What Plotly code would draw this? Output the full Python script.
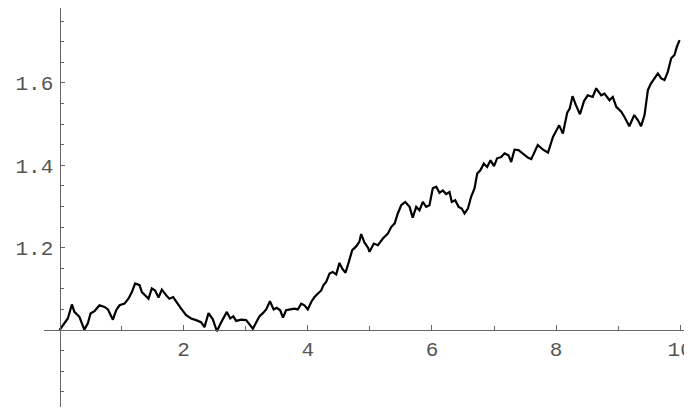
import plotly.graph_objects as go

# Path values (time t, value W)
t_values = [0.00, 0.08, 0.134, 0.199, 0.24, 0.32, 0.40, 0.456, 0.50, 0.564, 0.644, 0.725, 0.78, 0.86,
            0.913, 0.967, 1.047, 1.11, 1.166, 1.219, 1.289, 1.327, 1.38, 1.434, 1.487, 1.54, 1.595,
            1.649, 1.72, 1.77, 1.83, 1.88, 1.96, 2.04, 2.12, 2.20, 2.28, 2.336, 2.40, 2.47, 2.535,
            2.605, 2.696, 2.75, 2.80, 2.846, 2.927, 3.007, 3.06, 3.115, 3.17, 3.22, 3.276, 3.33, 3.39,
            3.45, 3.50, 3.555, 3.60, 3.65, 3.72, 3.786, 3.84, 3.894, 3.947, 4.00, 4.055, 4.108, 4.16,
            4.216, 4.253, 4.296, 4.35, 4.40, 4.458, 4.51, 4.555, 4.608, 4.66, 4.716, 4.78, 4.83, 4.86,
            4.914, 4.97, 4.994, 5.064, 5.13, 5.21, 5.29, 5.344, 5.40, 5.45, 5.505, 5.57, 5.64, 5.69,
            5.747, 5.80, 5.853, 5.907, 5.96, 6.014, 6.069, 6.122, 6.175, 6.23, 6.283, 6.32, 6.375,
            6.43, 6.48, 6.525, 6.58, 6.63, 6.686, 6.73, 6.78, 6.836, 6.89, 6.944, 7.00, 7.05, 7.116,
            7.17, 7.234, 7.277, 7.33, 7.395, 7.44, 7.49, 7.55, 7.60, 7.705, 7.79, 7.87, 7.95, 8.05,
            8.11, 8.18, 8.22, 8.265, 8.32, 8.385, 8.45, 8.51, 8.59, 8.647, 8.727, 8.78, 8.86, 8.914,
            8.97, 9.05, 9.10, 9.18, 9.26, 9.317, 9.37, 9.425, 9.48, 9.53, 9.586, 9.64, 9.694, 9.747,
            9.80, 9.855, 9.908, 9.946, 9.99]
w_values = [1.000, 1.016, 1.028, 1.062, 1.044, 1.032, 1.001, 1.016, 1.040, 1.046, 1.060, 1.056, 1.050, 1.025,
            1.048, 1.060, 1.064, 1.076, 1.092, 1.113, 1.109, 1.092, 1.084, 1.076, 1.101, 1.096, 1.079,
            1.098, 1.084, 1.076, 1.080, 1.068, 1.052, 1.036, 1.028, 1.024, 1.019, 1.007, 1.041, 1.026, 0.997,
            1.019, 1.044, 1.028, 1.033, 1.022, 1.025, 1.024, 1.015, 1.003, 1.019, 1.033, 1.041, 1.050, 1.070,
            1.050, 1.054, 1.048, 1.030, 1.048, 1.050, 1.052, 1.050, 1.064, 1.060, 1.050, 1.068, 1.080, 1.088,
            1.096, 1.109, 1.117, 1.137, 1.141, 1.135, 1.163, 1.149, 1.139, 1.165, 1.194, 1.203, 1.214, 1.233,
            1.212, 1.200, 1.190, 1.210, 1.206, 1.222, 1.234, 1.250, 1.259, 1.283, 1.303, 1.311, 1.299, 1.273,
            1.299, 1.291, 1.311, 1.299, 1.303, 1.344, 1.348, 1.333, 1.339, 1.330, 1.335, 1.311, 1.315,
            1.299, 1.295, 1.283, 1.295, 1.323, 1.344, 1.380, 1.388, 1.404, 1.396, 1.412, 1.398, 1.417, 1.420,
            1.429, 1.424, 1.408, 1.438, 1.437, 1.431, 1.425, 1.418, 1.415, 1.449, 1.438, 1.431, 1.469, 1.497,
            1.477, 1.528, 1.538, 1.568, 1.546, 1.524, 1.556, 1.570, 1.566, 1.587, 1.570, 1.574, 1.558, 1.566,
            1.542, 1.530, 1.518, 1.495, 1.522, 1.510, 1.495, 1.522, 1.583, 1.599, 1.611, 1.623, 1.611, 1.607,
            1.627, 1.660, 1.668, 1.688, 1.704]

x_tick_vals = [2, 4, 6, 8, 10]
x_tick_text = ["2", "4", "6", "8", "10"]
x_minor_vals = [1, 3, 5, 7, 9]
y_tick_vals = [1.2, 1.4, 1.6]
y_tick_text = ["1.2", "1.4", "1.6"]
y_minor_vals = [0.85, 0.90, 0.95, 1.05, 1.10, 1.15, 1.25, 1.30, 1.35, 1.45, 1.50, 1.55, 1.65, 1.70, 1.75]

x_range = [-0.25, 10.19]
y_range = [0.813, 1.782]

axis_color = "#666666"
font = dict(family="Liberation Mono, Courier New, monospace", size=21, color="#555555")

fig = go.Figure(go.Scatter(x=t_values, y=w_values, mode="lines",
                           line=dict(color="black", width=2.2), hoverinfo="skip",
                           cliponaxis=False))

# the page body adds an 8px offset; margins compensate for it
fig.update_layout(
    template="none",
    width=692, height=410,
    margin=dict(l=36, r=8, t=0, b=11, pad=0),
    paper_bgcolor="white", plot_bgcolor="white",
    showlegend=False,
    xaxis=dict(range=x_range, domain=[0, 1], anchor="free", automargin=False,
               position=(1 - y_range[0]) / (y_range[1] - y_range[0]),
               showline=True, linecolor=axis_color, linewidth=1,
               showgrid=False, zeroline=False,
               ticks="inside", ticklen=5, tickwidth=1, tickcolor=axis_color,
               tickmode="array", tickvals=x_tick_vals, ticktext=x_tick_text,
               minor=dict(ticks="inside", tickmode="array", tickvals=x_minor_vals,
                          ticklen=4, tickcolor=axis_color, showgrid=False),
               tickfont=font, ticklabelstandoff=0, ticklabeloverflow="allow"),
    yaxis=dict(range=y_range, domain=[0, 1], anchor="free", automargin=False,
               position=(0 - x_range[0]) / (x_range[1] - x_range[0]),
               showline=True, linecolor=axis_color, linewidth=1,
               showgrid=False, zeroline=False,
               ticks="inside", ticklen=4, tickwidth=1, tickcolor=axis_color,
               tickmode="array", tickvals=y_tick_vals, ticktext=y_tick_text,
               minor=dict(ticks="inside", tickmode="array", tickvals=y_minor_vals,
                          ticklen=3, tickcolor=axis_color, showgrid=False),
               tickfont=font, ticklabelstandoff=2, ticklabeloverflow="allow"),
)

fig.write_html("out.html")
